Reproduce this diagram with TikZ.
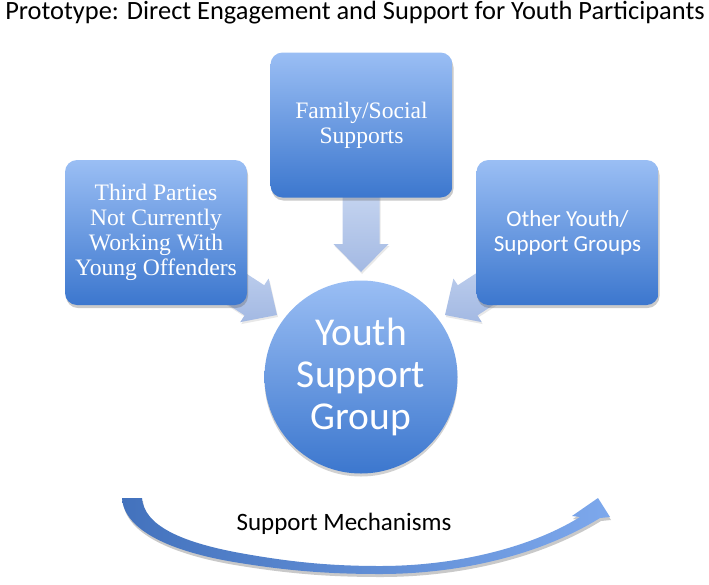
\documentclass[tikz,border=0pt]{standalone}
\usepackage{fontspec}
\setmainfont{Liberation Serif}
\newfontfamily\calib{Carlito}
\usetikzlibrary{shadows}
\definecolor{boxtop}{HTML}{9ABEF4}
\definecolor{boxbot}{HTML}{3C77CE}
\definecolor{arrtop}{HTML}{C6D5F0}
\definecolor{arrbot}{HTML}{A3B9E3}
\definecolor{curvL}{HTML}{4372BD}
\definecolor{curvR}{HTML}{7DA8EC}
\begin{document}
\begin{tikzpicture}[x=1pt,y=-1pt,
  sbox/.style={rounded corners=12pt, minimum width=182pt, minimum height=145pt,
    inner sep=0pt, align=center, text=white, top color=boxtop, bottom color=boxbot,
    drop shadow={opacity=0.35, shadow xshift=1pt, shadow yshift=-3pt, fill=black!60}},
  serif23/.style={font=\fontsize{23.6}{25}\selectfont},
  sans23/.style={font=\calib\fontsize{23}{25}\selectfont},
  hub/.style={circle, minimum size=193pt, inner sep=0pt, align=center, text=white,
    top color=boxtop, bottom color=boxbot, font=\calib\fontsize{39.5}{42}\selectfont,
    drop shadow={opacity=0.3, shadow xshift=0pt, shadow yshift=-3pt, fill=black!60}},
  barrow/.style={top color=arrtop, bottom color=arrbot,
    drop shadow={opacity=0.18, shadow xshift=1pt, shadow yshift=-2pt}},
  curvarrow/.style={left color=curvL, right color=curvR,
    drop shadow={opacity=0.3, shadow xshift=1pt, shadow yshift=-3pt, fill=black!70}}
]
\useasboundingbox (0,0) rectangle (709,584);

% title
\node (title) at (355,19) [anchor=base, font=\calib\fontsize{26.4}{30}\selectfont]
  {Prototype: Direct Engagement and Support for Youth Participants};

% block arrows (behind boxes)
\path[barrow] (342.5,190) -- (342.5,244) -- (333.5,244) -- (361,272)
  -- (388.5,244) -- (379.5,244) -- (379.5,190) -- cycle;
\path[barrow] (205.5,247) -- (264.2,285.2) -- (268.6,278.5) -- (277,315)
  -- (240.2,322.1) -- (244.6,315.4) -- (185.9,277.2) -- cycle;
\path[barrow] (516.5,247) -- (457.8,285.2) -- (453.4,278.5) -- (445,315)
  -- (481.8,322.1) -- (477.4,315.4) -- (536.1,277.2) -- cycle;

% boxes
\node (family) at (361.5,125) [sbox, serif23] {Family/Social\\Supports};
\node (third) at (156,232.5) [sbox, serif23] {Third Parties\\Not Currently\\Working With\\Young Offenders};
\node (other) at (567.5,232.5) [sbox, sans23] {Other Youth/\\Support Groups};

% hub
\node (hub) at (361,377) [hub] {Youth\\Support\\Group};

% curved arrow
\path[curvarrow] (122,498) .. controls (124,530) and (170,552) .. (240,563)
  .. controls (290,571) and (330,574) .. (380,574)
  .. controls (460,574) and (540,555) .. (600,518)
  -- (610,517) -- (598,498) -- (572,516) -- (580,517)
  .. controls (530,548) and (455,566) .. (380,566)
  .. controls (330,566) and (290,562) .. (240,553)
  .. controls (180,542) and (144,525) .. (142,498) -- cycle;

\node (mech) at (344,530) [anchor=base, font=\calib\fontsize{25}{30}\selectfont]
  {Support Mechanisms};
\end{tikzpicture}
\end{document}
